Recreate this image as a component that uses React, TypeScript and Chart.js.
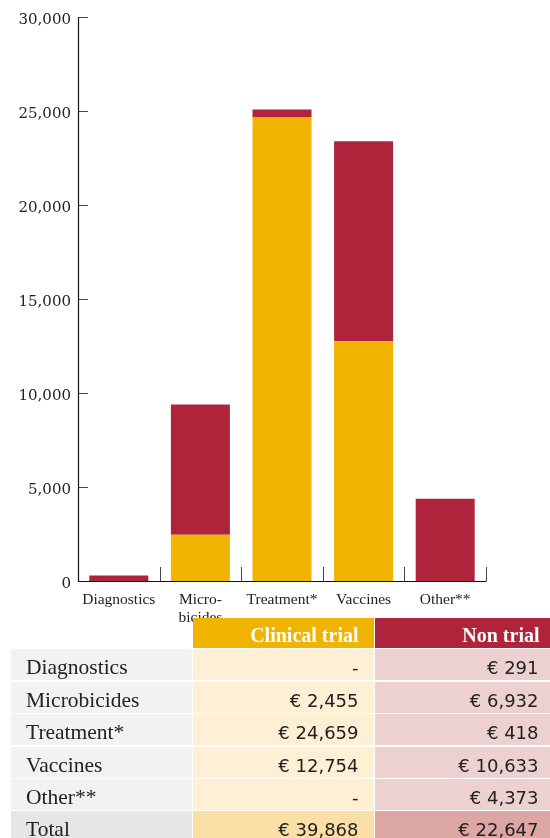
import React, { useEffect, useRef } from "react";
import { Chart, registerables } from "chart.js";

Chart.register(...registerables);

const categories: (string | string[])[] = ["Diagnostics", ["Micro-", "bicides"], "Treatment*", "Vaccines", "Other**"];
const tableLabels = ["Diagnostics", "Microbicides", "Treatment*", "Vaccines", "Other**"];
const clinicalTrial = [0, 2455, 24659, 12754, 0];
const nonTrial = [291, 6932, 418, 10633, 4373];
const seriesNames = ["Clinical trial", "Non trial"];
const yTicks = [0, 5000, 10000, 15000, 20000, 25000, 30000];

const GOLD = "#F0B400";
const CRIMSON = "#AF243A";

const axesPlugin = {
  id: "customAxes",
  afterDraw(chart: any) {
    const { ctx, chartArea } = chart;
    const x = chart.scales.x;
    const y = chart.scales.y;
    ctx.save();
    ctx.strokeStyle = "#444";
    ctx.lineWidth = 1;
    ctx.beginPath();
    yTicks.forEach((v) => {
      const py = Math.round(y.getPixelForValue(v)) + 0.5;
      ctx.moveTo(chartArea.left, py);
      ctx.lineTo(chartArea.left + 10, py);
    });
    for (let i = 0; i < categories.length; i++) {
      const px = Math.round(x.getPixelForValue(i + 0.5)) + 0.5;
      ctx.moveTo(px, chartArea.bottom);
      ctx.lineTo(px, chartArea.bottom - 14);
    }
    ctx.stroke();
    ctx.strokeStyle = "#111";
    ctx.lineWidth = 1.2;
    ctx.beginPath();
    const left = Math.round(chartArea.left) + 0.5;
    const top = Math.round(y.getPixelForValue(30000)) + 0.5;
    const bottom = Math.round(y.getPixelForValue(0)) + 0.5;
    const right = Math.round(x.getPixelForValue(categories.length - 0.5)) + 0.5;
    ctx.moveTo(left, top);
    ctx.lineTo(left, bottom);
    ctx.lineTo(right, bottom);
    ctx.stroke();
    ctx.restore();
  },
};

function BarChart() {
  const ref = useRef<HTMLCanvasElement>(null);
  useEffect(() => {
    if (!ref.current) return;
    const chart = new Chart(ref.current, {
      type: "bar",
      data: {
        labels: categories as any,
        datasets: [
          {
            label: seriesNames[0],
            data: clinicalTrial,
            backgroundColor: GOLD,
            borderWidth: 0,
            barPercentage: 0.723,
            categoryPercentage: 1,
          },
          {
            label: seriesNames[1],
            data: nonTrial,
            backgroundColor: CRIMSON,
            borderWidth: 0,
            barPercentage: 0.723,
            categoryPercentage: 1,
          },
        ],
      },
      options: {
        animation: false,
        responsive: false,
        maintainAspectRatio: false,
        layout: { padding: { left: 0, right: 64, top: 17, bottom: 0 } },
        plugins: {
          legend: { display: false },
          tooltip: { enabled: false },
        },
        scales: {
          x: {
            stacked: true,
            grid: { display: false, drawTicks: false },
            border: { display: false },
            ticks: {
              color: "#222",
              font: { family: "'Liberation Serif', serif", size: 15.5, lineHeight: 1.15 },
              padding: 10,
              maxRotation: 0,
              autoSkip: false,
            },
            afterFit(scale: any) {
              scale.height = 59;
            },
          },
          y: {
            stacked: true,
            min: 0,
            max: 30000,
            grid: { display: false, drawTicks: false },
            border: { display: false },
            afterBuildTicks(scale: any) {
              scale.ticks = yTicks.map((v) => ({ value: v }));
            },
            ticks: {
              color: "#222",
              font: { family: "'DejaVu Serif', serif", size: 15 },
              padding: 7,
              labelOffset: 3,
              callback: (v: any) => Number(v).toLocaleString("en-US"),
            },
            afterFit(scale: any) {
              scale.width = 78;
            },
          },
        },
      },
      plugins: [axesPlugin],
    });
    return () => chart.destroy();
  }, []);
  return <canvas ref={ref} width={550} height={640} style={{ display: "block", width: 550, height: 640 }} />;
}

const fmt = (v: number) => (v === 0 ? "-" : "€ " + v.toLocaleString("en-US"));

function DataTable() {
  const totalClinical = clinicalTrial.reduce((a, b) => a + b, 0);
  const totalNon = nonTrial.reduce((a, b) => a + b, 0);
  const labelFont = "'Liberation Serif', serif";
  const numFont = "'DejaVu Sans', sans-serif";
  const cellBase: React.CSSProperties = {
    display: "flex",
    alignItems: "center",
    height: 31,
    boxSizing: "border-box",
    color: "#222",
  };
  const rows = tableLabels.map((l, i) => ({ label: l, c: clinicalTrial[i], n: nonTrial[i], total: false }));
  rows.push({ label: "Total", c: totalClinical, n: totalNon, total: true });
  const headerStyle: React.CSSProperties = {
    ...cellBase,
    height: 30,
    color: "#fff",
    justifyContent: "flex-end",
    paddingTop: 4,
    fontFamily: labelFont,
    fontWeight: "bold",
    fontSize: 20,
  };
  return (
    <div
      style={{
        position: "absolute",
        left: 11,
        top: 618,
        display: "grid",
        gridTemplateColumns: "181px 180.5px 176px",
        columnGap: 1,
        rowGap: 1.4,
      }}
    >
      <div style={{ height: 30 }} />
      <div style={{ ...headerStyle, background: GOLD, paddingRight: 15 }}>{seriesNames[0]}</div>
      <div style={{ ...headerStyle, background: CRIMSON, paddingRight: 11 }}>{seriesNames[1]}</div>
      {rows.map((r) => (
        <React.Fragment key={r.label}>
          <div
            style={{
              ...cellBase,
              background: r.total ? "#E6E6E6" : "#F2F2F2",
              paddingLeft: 15,
              paddingTop: 6,
              fontFamily: labelFont,
              fontSize: 21.5,
            }}
          >
            {r.label}
          </div>
          <div
            style={{
              ...cellBase,
              background: r.total ? "#FADFA6" : "#FEEFD5",
              justifyContent: "flex-end",
              paddingRight: 15,
              paddingTop: 6,
              fontFamily: numFont,
              fontSize: 18,
            }}
          >
            {fmt(r.c)}
          </div>
          <div
            style={{
              ...cellBase,
              background: r.total ? "#DBA6A4" : "#EDD1D1",
              justifyContent: "flex-end",
              paddingRight: 12,
              paddingTop: 6,
              fontFamily: numFont,
              fontSize: 18,
            }}
          >
            {fmt(r.n)}
          </div>
        </React.Fragment>
      ))}
    </div>
  );
}

export default function App() {
  return (
    <div style={{ position: "absolute", left: 0, top: 0, width: 550, height: 838, overflow: "hidden", background: "#fff" }}>
      <BarChart />
      <DataTable />
    </div>
  );
}
